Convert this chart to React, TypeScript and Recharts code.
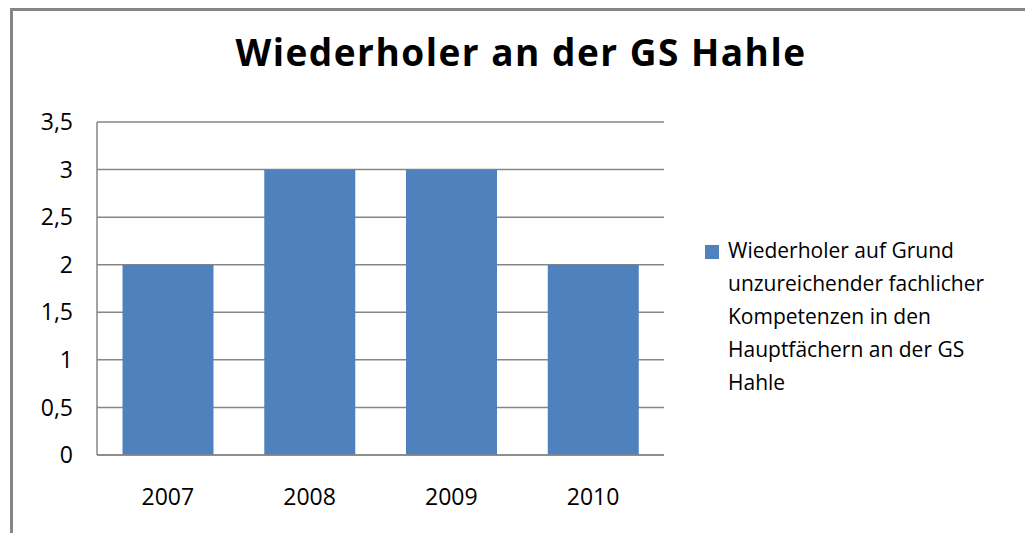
import React from 'react';
import { BarChart, Bar, XAxis, YAxis, CartesianGrid, Legend } from 'recharts';

const years = ['2007', '2008', '2009', '2010'];
const repeaters = [2, 3, 3, 2];
const yTicks = [0, 0.5, 1, 1.5, 2, 2.5, 3, 3.5];
const seriesName = 'Wiederholer auf Grund unzureichender fachlicher Kompetenzen in den Hauptfächern an der GS Hahle';
const chartTitle = 'Wiederholer an der GS Hahle';

const data = years.map((y, i) => ({ year: y, value: repeaters[i] }));

const FONT = '"Open Sans", "DejaVu Sans", sans-serif';
const GRAY = '#868686';
const BLUE = '#4F81BD';

const renderLegend = () => (
  <div style={{ position: 'relative', width: 300, fontFamily: FONT, fontSize: 21, lineHeight: '33px', color: '#000' }}>
    <span
      style={{ position: 'absolute', left: 0, top: 11, width: 14, height: 14, background: BLUE }}
    />
    <div style={{ marginLeft: 23, width: 290 }}>{seriesName}</div>
  </div>
);

export default function App() {
  return (
    <div style={{ position: 'absolute', left: 0, top: 0, width: 1025, height: 533, background: '#fff', overflow: 'hidden' }}>
      <div
        style={{
          position: 'absolute',
          left: 10,
          top: 8,
          width: 1100,
          height: 600,
          border: `3px solid ${GRAY}`,
          boxSizing: 'border-box',
        }}
      />
      <div
        style={{
          position: 'absolute',
          left: 0,
          width: 1042,
          top: 28,
          textAlign: 'center',
          fontFamily: FONT,
          fontWeight: 700,
          fontSize: 37,
          letterSpacing: 1.5,
          lineHeight: '48px',
          color: '#000',
          whiteSpace: 'nowrap',
        }}
      >
        {chartTitle}
      </div>
      <div style={{ position: 'absolute', left: 0, top: 0 }}>
        <BarChart
          width={1025}
          height={533}
          data={data}
          margin={{ top: 122, right: 361, bottom: 0, left: 0 }}
          barCategoryGap="18%"
        >
          <CartesianGrid vertical={false} stroke={GRAY} strokeWidth={1.5} />
          <XAxis
            dataKey="year"
            height={78}
            axisLine={{ stroke: GRAY, strokeWidth: 1.5 }}
            tickLine={false}
            tickSize={0}
            tickMargin={34}
            tick={{ fill: '#000', fontSize: 23, fontFamily: FONT }}
          />
          <YAxis
            width={97}
            domain={[0, 3.5]}
            ticks={yTicks}
            interval={0}
            axisLine={{ stroke: GRAY, strokeWidth: 1.5 }}
            tickLine={false}
            tickSize={0}
            tickMargin={24}
            tickFormatter={(v: number) => String(v).replace('.', ',')}
            tick={{ fill: '#000', fontSize: 23, fontFamily: FONT }}
          />
          <Legend
            layout="vertical"
            align="center"
            verticalAlign="middle"
            content={renderLegend}
            wrapperStyle={{ left: 705, top: 234, width: 320 }}
          />
          <Bar dataKey="value" name={seriesName} fill={BLUE} isAnimationActive={false} />
        </BarChart>
      </div>
    </div>
  );
}
